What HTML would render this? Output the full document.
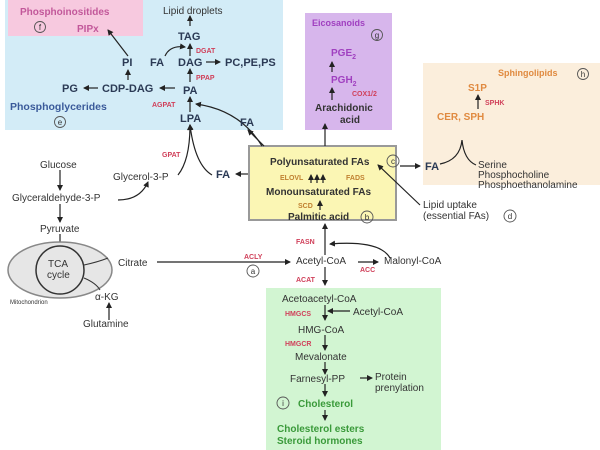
<!DOCTYPE html>
<html><head><meta charset="utf-8"><style>
html,body{margin:0;padding:0;background:#fff}
svg{display:block}
text{font-family:"Liberation Sans",sans-serif;fill:#333}
.b{font-weight:bold}
.r{fill:#d0405a;font-size:7px;font-weight:bold}
.n{font-size:10px}
.bl{fill:#2b3a55;font-weight:bold;font-size:11px}
.c{fill:none;stroke:#555;stroke-width:0.9}
.cl{font-size:8px;text-anchor:middle}
</style></head><body>
<svg width="600" height="450" viewBox="0 0 600 450" xmlns="http://www.w3.org/2000/svg">
<defs><marker id="a" markerWidth="6" markerHeight="6" refX="5" refY="3" orient="auto" markerUnits="userSpaceOnUse"><path d="M0,0 L6,3 L0,6z" fill="#222"/></marker></defs>
<rect x="5" y="0" width="278" height="130" fill="#d3ecf7"/>
<rect x="8" y="0" width="135" height="36" fill="#f7c9df"/>
<rect x="305" y="13" width="87" height="117" fill="#d7b6ec"/>
<rect x="423" y="63" width="177" height="122" fill="#fbeedc"/>
<rect x="266" y="288" width="175" height="162" fill="#d2f5d2"/>
<rect x="249" y="146" width="147" height="74" fill="#fbf6b4" stroke="#999" stroke-width="2"/>
<g stroke="#222" stroke-width="1.2" fill="none" marker-end="url(#a)">
<path d="M190,26 V16"/><path d="M190,56 V44"/><path d="M165,56 Q170,45 185,47"/>
<path d="M206,62 H220"/><path d="M190,82 V69"/><path d="M128,56 L108,30"/>
<path d="M128,80 V70"/><path d="M98,88 H84"/><path d="M175,88 H160"/>
<path d="M190,112 V97"/><path d="M262,146 Q240,110 196,104"/>
<path d="M178,175 Q190,160 190,125"/><path d="M212,175 Q195,165 190,125"/>
<path d="M248,174 H236"/><path d="M264,146 L248,130"/>
<path d="M60,170 V190"/><path d="M60,204 V222"/><path d="M60,234 V247"/>
<path d="M118,200 Q140,200 148,182"/><path d="M157,262 H290"/>
<path d="M109,320 V303"/><path d="M320,210 V201"/>
<path d="M311,183 V175"/><path d="M317,183 V175"/><path d="M323,183 V175"/>
<path d="M325,146 V124"/><path d="M332,72 V62"/><path d="M332,100 V88"/>
<path d="M400,166 H420"/>
<path d="M478,109 V95"/><path d="M420,205 L378,165"/>
<path d="M325,255 V224"/><path d="M390,258 Q380,240 330,244"/>
<path d="M358,262 H378"/><path d="M325,267 V285"/>
<path d="M325,305 V320"/><path d="M350,311 H328"/><path d="M325,335 V350"/>
<path d="M325,362 V374"/><path d="M360,378 H372"/><path d="M325,384 V396"/><path d="M325,410 V420"/>
</g>
<path d="M440,164 Q460,160 462,140 Q464,160 476,165" stroke="#222" stroke-width="1.2" fill="none"/>
<ellipse cx="60" cy="270" rx="52" ry="28" fill="#e6e6e6" stroke="#888" stroke-width="1.5"/>
<circle cx="60" cy="270" r="24" fill="#e6e6e6" stroke="#333" stroke-width="1.5"/>
<path d="M84,265 Q98,262 108,258 M84,278 Q96,283 100,290" stroke="#333" fill="none"/>
<g>
<circle class="c" cx="40" cy="27" r="5.5"/><text class="cl" x="40" y="30">f</text>
<circle class="c" cx="60" cy="122" r="5.5"/><text class="cl" x="60" y="125">e</text>
<circle class="c" cx="253" cy="271" r="6"/><text class="cl" x="253" y="274">a</text>
<circle class="c" cx="393" cy="161" r="6"/><text class="cl" x="393" y="164">c</text>
<circle class="c" cx="367" cy="217" r="6"/><text class="cl" x="367" y="220">b</text>
<circle class="c" cx="377" cy="35" r="5.5"/><text class="cl" x="377" y="38">g</text>
<circle class="c" cx="583" cy="74" r="5.5"/><text class="cl" x="583" y="77">h</text>
<circle class="c" cx="510" cy="216" r="6"/><text class="cl" x="510" y="219">d</text>
<circle class="c" cx="283" cy="403" r="6"/><text class="cl" x="283" y="406">i</text>
</g>
<g font-size="10">
<text x="20" y="15" class="b" style="fill:#c2589a" font-size="10">Phosphoinositides</text>
<text x="77" y="32" class="b" style="fill:#c2589a" font-size="10">PIPx</text>
<text x="163" y="14" class="n">Lipid droplets</text>
<text x="178" y="40" class="bl">TAG</text>
<text x="196" y="53" class="r">DGAT</text>
<text x="122" y="66" class="bl">PI</text>
<text x="150" y="66" class="bl">FA</text>
<text x="178" y="66" class="bl">DAG</text>
<text x="225" y="66" class="bl">PC,PE,PS</text>
<text x="196" y="80" class="r">PPAP</text>
<text x="62" y="92" class="bl">PG</text>
<text x="102" y="92" class="bl">CDP-DAG</text>
<text x="183" y="94" class="bl">PA</text>
<text x="10" y="110" class="b" style="fill:#3a5a9a" font-size="10.5">Phosphoglycerides</text>
<text x="152" y="107" class="r">AGPAT</text>
<text x="180" y="122" class="bl">LPA</text>
<text x="240" y="126" class="bl">FA</text>
<text x="162" y="157" class="r">GPAT</text>
<text x="40" y="168" class="n">Glucose</text>
<text x="113" y="180" class="n">Glycerol-3-P</text>
<text x="216" y="178" class="bl">FA</text>
<text x="12" y="201" class="n">Glyceraldehyde-3-P</text>
<text x="40" y="232" class="n">Pyruvate</text>
<text x="48" y="267" class="n" font-size="9">TCA</text>
<text x="47" y="278" class="n" font-size="9">cycle</text>
<text x="118" y="266" class="n">Citrate</text>
<text x="244" y="259" class="r">ACLY</text>
<text x="95" y="300" class="n">α-KG</text>
<text x="10" y="304" font-size="6">Mitochondrion</text>
<text x="83" y="327" class="n">Glutamine</text>
<text x="270" y="165" class="b" font-size="10">Polyunsaturated FAs</text>
<text x="280" y="180" class="r" style="fill:#c08030">ELOVL</text>
<text x="346" y="180" class="r" style="fill:#c08030">FADS</text>
<text x="266" y="195" class="b" font-size="10">Monounsaturated FAs</text>
<text x="298" y="208" class="r" style="fill:#c08030">SCD</text>
<text x="288" y="220" class="b" font-size="10">Palmitic acid</text>
<text x="312" y="26" class="b" style="fill:#a040c0" font-size="9">Eicosanoids</text>
<text x="331" y="56" class="b" style="fill:#a040c0">PGE<tspan font-size="7" dy="3">2</tspan></text>
<text x="331" y="83" class="b" style="fill:#a040c0">PGH<tspan font-size="7" dy="3">2</tspan></text>
<text x="352" y="96" class="r">COX1/2</text>
<text x="315" y="111" class="b">Arachidonic</text>
<text x="340" y="123" class="b">acid</text>
<text x="498" y="76" class="b" style="fill:#e08a40" font-size="9">Sphingolipids</text>
<text x="468" y="91" class="b" style="fill:#e08a40">S1P</text>
<text x="485" y="105" class="r">SPHK</text>
<text x="437" y="120" class="b" style="fill:#e08a40">CER, SPH</text>
<text x="425" y="170" class="bl">FA</text>
<text x="478" y="168" class="n" font-size="9">Serine</text>
<text x="478" y="178" class="n" font-size="9">Phosphocholine</text>
<text x="478" y="188" class="n" font-size="9">Phosphoethanolamine</text>
<text x="423" y="208" class="n" font-size="9">Lipid uptake</text>
<text x="423" y="219" class="n" font-size="9">(essential FAs)</text>
<text x="296" y="244" class="r">FASN</text>
<text x="296" y="264" class="n">Acetyl-CoA</text>
<text x="360" y="272" class="r">ACC</text>
<text x="384" y="264" class="n">Malonyl-CoA</text>
<text x="296" y="282" class="r">ACAT</text>
<text x="282" y="302" class="n">Acetoacetyl-CoA</text>
<text x="285" y="316" class="r">HMGCS</text>
<text x="353" y="315" class="n">Acetyl-CoA</text>
<text x="298" y="333" class="n">HMG-CoA</text>
<text x="285" y="346" class="r">HMGCR</text>
<text x="295" y="360" class="n">Mevalonate</text>
<text x="290" y="382" class="n">Farnesyl-PP</text>
<text x="375" y="380" class="n">Protein</text>
<text x="375" y="391" class="n">prenylation</text>
<text x="298" y="407" class="b" style="fill:#3a9a3a">Cholesterol</text>
<text x="277" y="432" class="b" style="fill:#3a9a3a">Cholesterol esters</text>
<text x="277" y="444" class="b" style="fill:#3a9a3a">Steroid hormones</text>
</g>
</svg>
</body></html>
